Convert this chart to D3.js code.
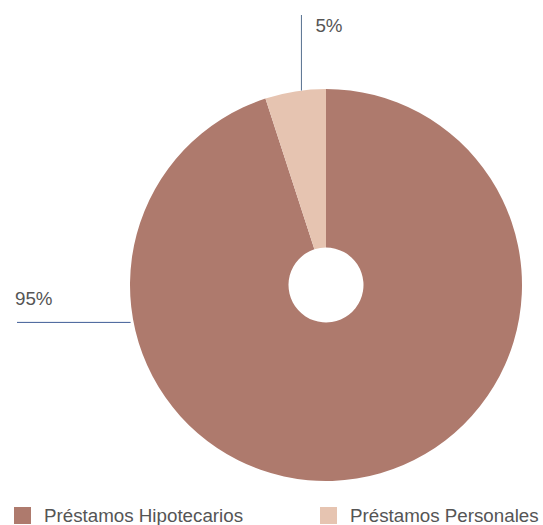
<!DOCTYPE html>
<html>
<head>
<meta charset="utf-8">
<script src="https://cdn.jsdelivr.net/npm/d3@7"></script>
<style>
  body { margin: 0; background: #fff; }
  text { font-family: "Liberation Sans", Arial, sans-serif; fill: #555; }
</style>
</head>
<body>
<div id="viz"></div>
<script>
// data
const categories = ["Préstamos Hipotecarios", "Préstamos Personales"]
const values = [95, 5]
const colors = ["#ae7a6d", "#e6c4b1"]

const width = 543
const height = 525
const cx = 326, cy = 285
const outerR = 196, innerR = 37.5
const fontSize = "18.75px"

const svg = d3.select("#viz").append("svg")
    .attr("width", width)
    .attr("height", height)

const pie = d3.pie().sort(null).value(d => d)
const arcs = pie(values)

const arc = d3.arc().innerRadius(innerR).outerRadius(outerR)

const g = svg.append("g").attr("transform", `translate(${cx},${cy})`)

g.selectAll("path")
    .data(arcs)
    .enter()
    .append("path")
    .attr("d", arc)
    .attr("fill", (d, i) => colors[i])

// point on the outer edge for a given angle
const edge = a => [outerR * Math.sin(a), -outerR * Math.cos(a)]

// 5% label: vertical line up from the slice
const small = arcs[1]
const pSmall = edge(small.startAngle + (small.endAngle - small.startAngle) * 0.6)
g.append("line")
    .attr("x1", pSmall[0]).attr("y1", pSmall[1])
    .attr("x2", pSmall[0]).attr("y2", 15 - cy)
    .attr("stroke", "#56708f").attr("stroke-width", 1)
g.append("text")
    .attr("x", pSmall[0] + 14).attr("y", 32 - cy)
    .style("font-size", fontSize)
    .text(values[1] + "%")

// 95% label: horizontal line out to the left
const pBig = edge(259 * Math.PI / 180)
g.append("line")
    .attr("x1", pBig[0] - 3).attr("y1", pBig[1])
    .attr("x2", 17 - cx).attr("y2", pBig[1])
    .attr("stroke", "#3f5c96").attr("stroke-width", 1)
g.append("text")
    .attr("x", 15 - cx).attr("y", pBig[1] - 17)
    .style("font-size", fontSize)
    .text(values[0] + "%")

// legend
const legendX = d3.scalePoint().domain(categories).range([14, 320])
const legend = svg.selectAll(".legend")
    .data(categories)
    .enter()
    .append("g")
    .attr("transform", d => `translate(${legendX(d)},507)`)

legend.append("rect")
    .attr("width", 17).attr("height", 17)
    .attr("fill", (d, i) => colors[i])

legend.append("text")
    .attr("x", 30).attr("y", 15)
    .style("font-size", fontSize)
    .text(d => d)
</script>
</body>
</html>
